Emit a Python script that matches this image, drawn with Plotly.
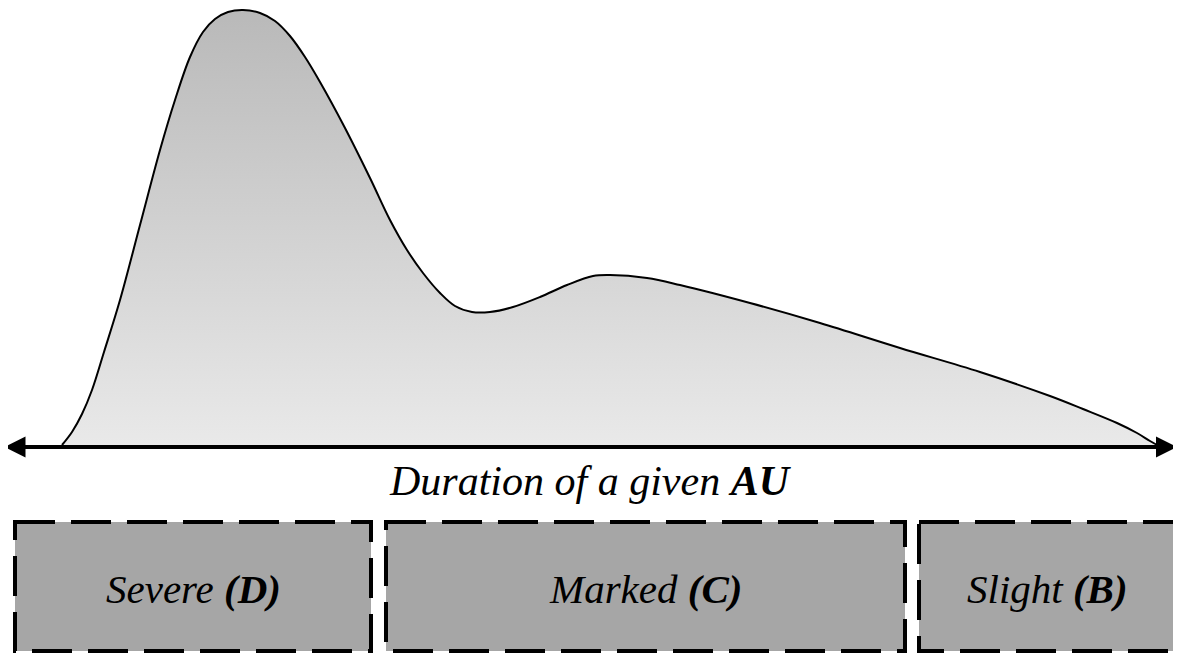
"""Duration-of-AU density sketch with intensity bands (Plotly)."""

import plotly.graph_objects as go

curve_x = [62, 72, 82, 92, 104, 120, 140, 160, 175, 190, 203, 215, 228, 243,
           260, 275, 290, 305, 320, 345, 370, 390, 407, 423, 440, 455, 472,
           490, 513, 540, 567, 593, 610, 647, 680, 750, 820, 900, 980, 1050,
           1083, 1117, 1137, 1150, 1157]
curve_y = [445, 432, 414, 390, 352, 300, 225, 150, 100, 57, 32, 19, 12, 10,
           13, 21, 36, 57, 82, 128, 178, 220, 250, 273, 293, 306, 312,
           312, 307, 297, 285, 276, 275, 278, 285, 303, 323, 348, 372, 396,
           409, 423, 433, 441, 445]

axis_y = 447
axis_x = [3, 1177]

axis_title = "<i>Duration of a given <b>AU</b></i>"

band_labels = ["<i>Severe <b>(D)</b></i>", "<i>Marked <b>(C)</b></i>", "<i>Slight <b>(B)</b></i>"]
band_start = [15, 386, 919]
band_end = [371, 905, 1175]
band_top, band_bottom = 522, 651

FONT = "Liberation Serif, Times New Roman, serif"
PAGE_W, PAGE_H, BODY_MARGIN = 1181, 656, 8  # page body keeps its 8px margin

fig = go.Figure()

# baseline for the fill
fig.add_trace(go.Scatter(
    x=[curve_x[0], curve_x[-1]], y=[axis_y - 2, axis_y - 2],
    mode="lines", line=dict(width=0), hoverinfo="skip", showlegend=False,
))
fig.add_trace(go.Scatter(
    x=curve_x, y=curve_y,
    mode="lines",
    line=dict(color="#000000", width=2, shape="spline", smoothing=1.0),
    fill="tonexty",
    fillgradient=dict(type="vertical",
                      colorscale=[[0, "#e9e9e9"], [1, "#b9b9b9"]]),
    hoverinfo="skip",
    showlegend=False,
))

shapes = []
for x0, x1 in zip(band_start, band_end):
    shapes.append(dict(
        type="rect", xref="x", yref="y",
        x0=x0, x1=x1, y0=band_top, y1=band_bottom,
        fillcolor="#a6a6a6",
        line=dict(color="#000000", width=4, dash="40px,16px"),
        layer="below",
    ))

annotations = [
    # double-headed axis arrow
    dict(x=axis_x[1], y=axis_y, ax=axis_x[0], ay=axis_y,
         xref="x", yref="y", axref="x", ayref="y",
         text="", showarrow=True, arrowside="end+start",
         arrowhead=2, arrowsize=1.0, arrowwidth=4.2, arrowcolor="#000000",
         standoff=0, startstandoff=0),
    dict(x=(axis_x[0] + axis_x[1]) / 2, y=481, xref="x", yref="y",
         text=axis_title, showarrow=False,
         font=dict(family=FONT, size=42, color="#000000")),
]
for lab, x0, x1 in zip(band_labels, band_start, band_end):
    annotations.append(dict(
        x=(x0 + x1) / 2, y=(band_top + band_bottom) / 2 + 2,
        xref="x", yref="y", text=lab, showarrow=False,
        font=dict(family=FONT, size=41, color="#000000"),
    ))

fig.update_layout(
    width=PAGE_W - BODY_MARGIN, height=PAGE_H - BODY_MARGIN,
    margin=dict(l=0, r=0, t=0, b=0),
    paper_bgcolor="white", plot_bgcolor="white",
    xaxis=dict(range=[BODY_MARGIN, PAGE_W], visible=False, fixedrange=True),
    yaxis=dict(range=[PAGE_H, BODY_MARGIN], visible=False, fixedrange=True),
    shapes=shapes,
    annotations=annotations,
    showlegend=False,
)

fig.write_html("out.html")
